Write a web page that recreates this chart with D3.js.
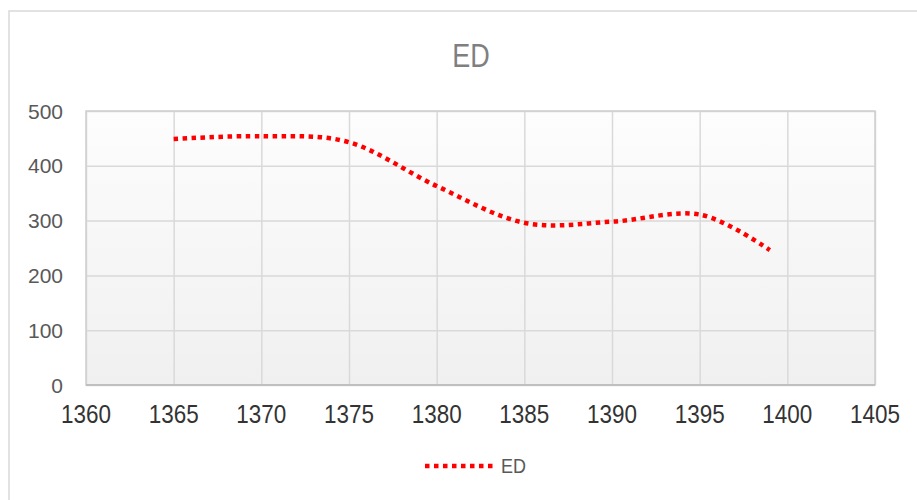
<!DOCTYPE html>
<html lang="en">
<head>
    <meta charset="UTF-8">
    <title>ED</title>
    <script src="https://cdn.jsdelivr.net/npm/d3@7"></script>
    <style>
        body { margin: 0; background: #fff; }
    </style>
</head>
<body>
<script>
    // data
    var years = [1365, 1370, 1375, 1380, 1385, 1390, 1395, 1399];
    var edValues = [449, 454, 443, 363, 296, 298, 311, 246];
    var xTicks = [1360, 1365, 1370, 1375, 1380, 1385, 1390, 1395, 1400, 1405];
    var yTicks = [0, 100, 200, 300, 400, 500];
    var seriesName = "ED";

    var w = 917, h = 500;
    // plot area edges (note: "top" is reserved on window)
    var plotL = 86, plotR = 875, plotT = 111, plotB = 385;

    var svg = d3.select("body").append("svg")
        .attr("width", w)
        .attr("height", h);

    // chart frame
    svg.append("rect")
        .attr("x", 9).attr("y", 11)
        .attr("width", w + 10).attr("height", h + 10)
        .attr("fill", "#fff")
        .attr("stroke", "#d9d9d9")
        .attr("stroke-width", 1.5);

    var x = d3.scaleLinear().domain([1360, 1405]).range([plotL, plotR]);
    var y = d3.scaleLinear().domain([0, 500]).range([plotB, plotT]);

    // plot background gradient
    var grad = svg.append("defs").append("linearGradient")
        .attr("id", "bg").attr("x1", 0).attr("y1", 0).attr("x2", 0).attr("y2", 1);
    grad.append("stop").attr("offset", "0%").attr("stop-color", "#fdfdfd");
    grad.append("stop").attr("offset", "100%").attr("stop-color", "#f0f0f0");

    svg.append("rect")
        .attr("x", plotL).attr("y", plotT)
        .attr("width", plotR - plotL).attr("height", plotB - plotT)
        .attr("fill", "url(#bg)");

    // gridlines
    svg.append("g")
        .attr("transform", "translate(0," + plotB + ")")
        .call(d3.axisBottom(x).tickValues(xTicks).tickSize(-(plotB - plotT)).tickFormat(""))
        .call(function (g) { g.select(".domain").remove(); })
        .selectAll("line").attr("stroke", "#d9d9d9").attr("stroke-width", 1.5);

    svg.append("g")
        .attr("transform", "translate(" + plotL + ",0)")
        .call(d3.axisLeft(y).tickValues(yTicks).tickSize(-(plotR - plotL)).tickFormat(""))
        .call(function (g) { g.select(".domain").remove(); })
        .selectAll("line").attr("stroke", "#d9d9d9").attr("stroke-width", 1.5);

    // plot border
    svg.append("rect")
        .attr("x", plotL).attr("y", plotT)
        .attr("width", plotR - plotL).attr("height", plotB - plotT)
        .attr("fill", "none")
        .attr("stroke", "#d0d0d0")
        .attr("stroke-width", 1.5);
    svg.append("line")
        .attr("x1", plotL).attr("x2", plotR)
        .attr("y1", plotB).attr("y2", plotB)
        .attr("stroke", "#bfbfbf").attr("stroke-width", 2);

    // tick labels
    svg.selectAll("text.xlab")
        .data(xTicks)
        .enter().append("text")
        .attr("class", "xlab")
        .attr("transform", function (d) { return "translate(" + x(d) + ",423) scale(1,1.12)"; })
        .attr("text-anchor", "middle")
        .attr("font-family", "Liberation Sans, Arial, sans-serif")
        .attr("font-size", "22.5px")
        .attr("fill", "#333")
        .text(function (d) { return d; });

    svg.selectAll("text.ylab")
        .data(yTicks)
        .enter().append("text")
        .attr("class", "ylab")
        .attr("x", 63)
        .attr("y", function (d) { return y(d) + 7.5; })
        .attr("text-anchor", "end")
        .attr("font-family", "Liberation Sans, Arial, sans-serif")
        .attr("font-size", "21px")
        .attr("fill", "#595959")
        .text(function (d) { return d; });

    // title
    svg.append("text")
        .attr("transform", "translate(471,67) scale(1,1.2)")
        .attr("text-anchor", "middle")
        .attr("font-family", "Liberation Sans, Arial, sans-serif")
        .attr("font-size", "27px")
        .attr("fill", "#7f7f7f")
        .text(seriesName);

    // series line
    var line = d3.line()
        .x(function (d, i) { return x(years[i]); })
        .y(function (d) { return y(d); })
        .curve(d3.curveCardinal.tension(0));

    svg.append("path")
        .datum(edValues)
        .attr("d", line)
        .attr("fill", "none")
        .attr("stroke", "#ff0000")
        .attr("stroke-width", 4.5)
        .attr("stroke-dasharray", "4.5,4.5");

    // legend
    svg.append("line")
        .attr("x1", 425).attr("x2", 493)
        .attr("y1", 466).attr("y2", 466)
        .attr("stroke", "#ff0000")
        .attr("stroke-width", 4.5)
        .attr("stroke-dasharray", "4.5,4.5");

    svg.append("text")
        .attr("transform", "translate(501,473) scale(1,1.1)")
        .attr("font-family", "Liberation Sans, Arial, sans-serif")
        .attr("font-size", "18px")
        .attr("fill", "#595959")
        .text(seriesName);
</script>
</body>
</html>
